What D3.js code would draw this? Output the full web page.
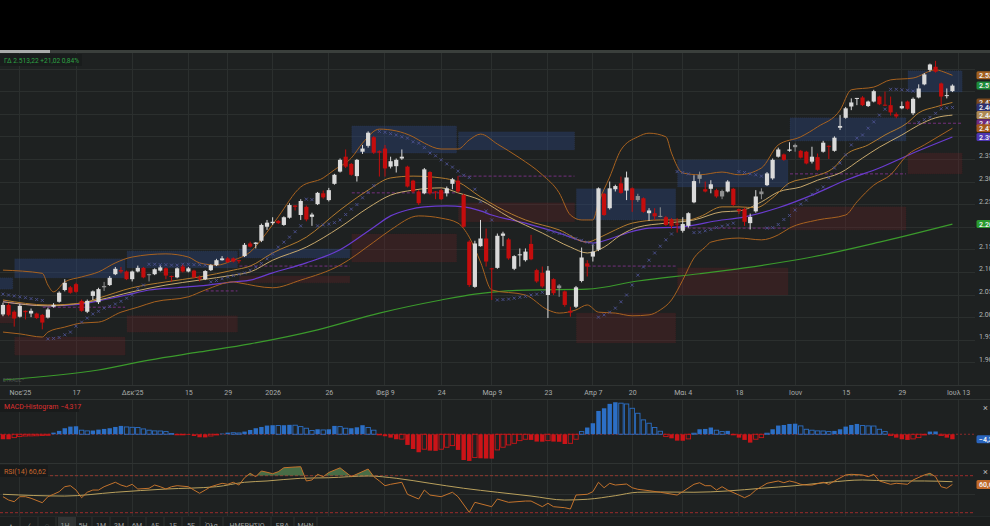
<!DOCTYPE html>
<html><head><meta charset="utf-8">
<script src="https://cdnjs.cloudflare.com/ajax/libs/d3/7.8.5/d3.min.js"></script>
<style>
html,body{margin:0;padding:0;background:#1e2121;overflow:hidden;}
svg{display:block;}
text{font-family:Roboto,"Noto Sans","DejaVu Sans",sans-serif;}
</style></head><body>
<svg id="chart" width="990" height="526"></svg>
<script>
// ---------- DATA ----------
const open=[2007,2028,2013,2002,2015,2009,2009,2006,2000,2024,2035,2061,2067,2074,2037,2013,2048,2034,2067,2072,2096,2105,2102,2085,2102,2110,2094,2096,2104,2109,2092,2089,2113,2102,2104,2089,2085,2105,2116,2127,2131,2131,2127,2136,2164,2163,2170,2201,2209,2214,2205,2221,2248,2227,2245,2223,2251,2275,2260,2296,2323,2356,2340,2313,2367,2380,2399,2368,2374,2334,2335,2352,2334,2303,2279,2275,2322,2279,2282,2275,2296,2303,2271,2168,2068,2158,2175,2109,2110,2181,2173,2108,2138,2127,2163,2105,2099,2050,2085,2065,2058,2015,2024,2081,2120,2135,2150,2274,2242,2284,2297,2281,2286,2260,2264,2231,2231,2223,2222,2217,2208,2192,2203,2255,2307,2284,2285,2282,2268,2279,2285,2240,2240,2209,2235,2273,2293,2308,2356,2361,2369,2377,2369,2367,2345,2355,2367,2380,2369,2420,2442,2467,2484,2487,2468,2478,2489,2471,2470,2450,2463,2478,2452,2487,2516,2548,2555,2518,2490,2501];
const high=[2033,2032,2016,2030,2016,2020,2011,2008,2022,2032,2058,2085,2070,2077,2040,2040,2060,2066,2079,2092,2112,2112,2104,2104,2115,2112,2097,2109,2115,2111,2093,2111,2117,2112,2106,2093,2105,2118,2130,2136,2134,2133,2128,2165,2168,2167,2208,2216,2222,2216,2224,2253,2249,2262,2248,2232,2278,2281,2287,2318,2352,2372,2342,2351,2382,2412,2402,2370,2382,2356,2352,2372,2336,2305,2282,2331,2324,2280,2285,2290,2309,2313,2274,2171,2170,2216,2197,2110,2186,2190,2176,2138,2153,2153,2183,2108,2113,2114,2087,2074,2060,2024,2070,2155,2127,2161,2288,2276,2301,2294,2312,2323,2288,2274,2266,2242,2242,2244,2225,2220,2220,2222,2233,2315,2323,2301,2304,2285,2283,2304,2287,2241,2243,2230,2282,2286,2322,2352,2376,2363,2388,2385,2371,2369,2378,2363,2391,2381,2401,2448,2466,2485,2486,2490,2480,2504,2491,2500,2489,2454,2478,2480,2487,2516,2541,2562,2568,2520,2507,2516];
const low=[2003,2003,1980,2000,1996,2001,1997,1974,1998,2022,2033,2058,2053,2055,2013,2010,2039,2030,2059,2070,2094,2098,2083,2080,2100,2087,2080,2094,2102,2085,2080,2087,2100,2100,2087,2080,2083,2103,2114,2126,2121,2122,2120,2134,2155,2153,2167,2194,2205,2207,2203,2219,2237,2216,2213,2203,2249,2263,2257,2294,2321,2331,2314,2301,2362,2376,2362,2312,2312,2330,2321,2349,2288,2276,2249,2273,2272,2262,2260,2268,2284,2276,2199,2068,2066,2157,2113,2039,2108,2158,2128,2105,2113,2124,2127,2077,2066,1999,2050,2046,2024,2002,2021,2078,2091,2124,2147,2225,2239,2279,2274,2260,2234,2256,2232,2214,2216,2222,2203,2197,2188,2188,2199,2253,2297,2277,2275,2265,2262,2277,2247,2229,2203,2195,2232,2262,2291,2305,2354,2347,2367,2367,2352,2339,2341,2325,2365,2351,2367,2415,2440,2459,2470,2468,2466,2476,2470,2468,2447,2441,2461,2460,2448,2485,2514,2544,2542,2467,2485,2499];
const close=[2028,2006,1998,2026,2012,2015,1999,1989,2018,2028,2055,2077,2055,2057,2015,2037,2058,2063,2070,2088,2108,2102,2085,2102,2110,2089,2096,2107,2111,2093,2090,2109,2102,2109,2089,2086,2103,2116,2127,2131,2123,2124,2125,2161,2157,2166,2205,2210,2212,2209,2222,2249,2245,2258,2217,2228,2276,2266,2282,2316,2349,2334,2316,2349,2374,2409,2365,2365,2330,2346,2349,2356,2290,2279,2253,2328,2275,2277,2262,2286,2306,2279,2201,2072,2164,2175,2124,2107,2181,2186,2131,2136,2140,2146,2129,2080,2069,2104,2054,2071,2028,2011,2067,2133,2113,2146,2286,2227,2286,2291,2276,2310,2260,2269,2234,2237,2224,2225,2205,2203,2206,2207,2231,2302,2316,2279,2295,2268,2280,2301,2249,2236,2212,2223,2268,2279,2319,2349,2372,2349,2372,2382,2354,2341,2356,2327,2387,2378,2398,2424,2463,2476,2486,2470,2478,2501,2472,2469,2454,2445,2468,2462,2484,2507,2538,2560,2544,2489,2492.2,2513.22];
const grayBars=[18,26,99,113,117,124,128,135,141];
const sar=[2052,2050,2048,2046,2044,2042,2040,2038,1953,1954,1956,1962,1968,1981,1990,1999,2008,2014,2021,2025,2030,2036,2043,2050,2064,2072,2118,2118,2117,2117,2116,2116,2118,2118,2117,2117,2116,2079,2082,2086,2090,2093,2096,2099,2105,2112,2120,2130,2141,2156,2167,2178,2190,2203,2262,2261,2203,2205,2207,2210,2216,2228,2240,2250,2265,2277,2292,2412,2410,2407,2404,2400,2397,2389,2386,2376,2364,2358,2349,2340,2333,2324,2315,2310,2284,2256,2236,2216,2039,2040,2041,2043,2045,2047,2050,2052,2056,2193,2189,2186,2183,2179,2175,2171,2167,2163,2001,2006,2012,2021,2035,2050,2072,2094,2112,2127,2143,2158,2172,2185,2323,2321,2318,2188,2189,2192,2195,2199,2202,2205,2209,2323,2321,2318,2316,2313,2198,2199,2206,2217,2226,2238,2251,2260,2273,2282,2289,2309,2331,2342,2360,2382,2397,2404,2419,2433,2448,2461,2505,2505,2504,2503,2501,2432,2438,2443,2452,2462,2464,2465];
const macdHist=[-4.3,-4.3,-2.9,-2.0,-1.5,-1.4,-1.3,-1.1,-0.9,1.4,2.9,5.2,6.6,6.9,3.5,2.9,3.2,4.0,4.6,5.2,6.3,7.2,6.3,6.0,5.8,4.6,3.5,2.9,2.8,2.3,0.6,-0.3,-0.2,-0.6,-1.5,-2.6,-2.7,-1.5,-0.6,0.6,1.4,1.3,1.1,2.3,3.7,5.2,6.3,7.5,7.8,7.5,7.8,8.1,7.8,6.6,5.2,3.2,4.3,3.7,4.3,7.2,6.6,5.2,5.2,6.0,7.8,5.8,3.5,-0.1,-1.7,-2.9,-4.3,-4.2,-9.2,-12.7,-15.5,-12.9,-14.1,-14.3,-12.9,-11.2,-9.8,-13.5,-22.2,-23.0,-20.1,-20.7,-20.9,-21.0,-13.5,-11.2,-9.2,-7.8,-5.5,-4.3,-4.9,-6.3,-6.4,-5.5,-6.3,-6.5,-8.4,-7.8,-4.3,2.3,5.8,9.5,20.1,22.4,26.2,27.6,26.8,26.1,22.4,18.1,12.4,9.5,5.8,2.6,-2.0,-3.5,-5.5,-5.6,-4.0,0.9,4.3,4.6,5.8,3.5,2.3,2.9,-0.3,-2.9,-4.9,-7.2,-4.3,-2.9,0.9,4.3,7.5,8.0,8.9,9.1,7.2,4.3,3.5,2.9,2.8,2.3,2.9,4.3,6.6,8.0,8.9,7.5,7.2,7.1,4.3,2.3,-1.1,-2.9,-4.3,-4.9,-4.0,-2.9,-0.6,2.3,2.4,-1.1,-2.9,-4.317];

// line series as [bar index, value] points
const bbUpper=[[0,2105],[7,2098],[8,2072],[9,2057],[11,2079],[14,2090],[17,2101],[20,2121],[23,2134],[29,2141],[33,2134],[35,2121],[38,2116],[41,2127],[44,2145],[47,2189],[49,2223],[53,2289],[57,2309],[59,2327],[62,2353],[64,2386],[67,2417],[70,2413],[73,2400],[75,2386],[78,2373],[81,2373],[83,2393],[85,2406],[88,2384],[92,2353],[96,2316],[99,2276],[101,2227],[103,2216],[105,2216],[106,2254],[108,2311],[110,2371],[113,2400],[115,2408],[118,2400],[119,2364],[121,2320],[124,2316],[128,2322],[131,2316],[135,2331],[138,2382],[142,2400],[145,2422],[149,2459],[151,2504],[155,2510],[158,2526],[162,2530],[166,2548],[168,2541],[169,2536]];
const bbBasis=[[0,2039],[8,2028],[14,2032],[17,2043],[23,2066],[29,2079],[35,2090],[41,2105],[44,2114],[48,2143],[54,2178],[60,2238],[65,2282],[69,2309],[73,2313],[78,2309],[81,2300],[85,2267],[88,2245],[93,2216],[99,2194],[104,2167],[106,2176],[109,2194],[112,2209],[117,2216],[122,2216],[124,2223],[128,2245],[131,2245],[134,2243],[137,2265],[140,2298],[144,2311],[148,2333],[150,2360],[154,2382],[157,2404],[161,2431],[163,2453],[166,2466],[169,2476]];
const bbLower=[[0,1968],[3,1964],[7,1957],[8,1968],[11,1979],[14,1988],[17,1990],[21,2012],[24,2023],[27,2035],[33,2046],[36,2061],[41,2079],[42,2077],[48,2066],[53,2083],[60,2116],[66,2167],[69,2194],[74,2225],[78,2220],[81,2209],[83,2178],[85,2123],[87,2061],[93,2050],[97,2017],[99,2010],[102,2017],[104,2028],[106,2012],[109,2010],[112,2004],[115,2006],[117,2017],[119,2039],[121,2083],[123,2132],[125,2156],[126,2167],[131,2176],[135,2172],[138,2183],[140,2198],[145,2216],[150,2227],[152,2256],[155,2293],[158,2316],[161,2360],[164,2382],[169,2419]];
const emaTan=[[0,2035],[8,2026],[17,2039],[23,2057],[29,2072],[35,2083],[41,2094],[44,2101],[48,2127],[54,2156],[60,2200],[65,2243],[69,2271],[73,2282],[78,2287],[81,2276],[85,2260],[90,2223],[96,2187],[101,2156],[104,2143],[107,2156],[110,2183],[113,2200],[118,2209],[123,2216],[128,2234],[131,2236],[135,2256],[138,2278],[142,2289],[145,2304],[149,2320],[153,2353],[156,2377],[160,2404],[163,2426],[166,2442],[169,2448]];
const maPurple=[[0,2035],[8,2026],[14,2030],[17,2037],[22,2050],[26,2061],[31,2066],[35,2070],[41,2079],[44,2083],[48,2099],[54,2121],[60,2150],[66,2200],[69,2225],[72,2238],[75,2245],[79,2247],[82,2245],[85,2236],[87,2227],[93,2209],[99,2187],[105,2165],[108,2174],[111,2187],[115,2198],[120,2200],[124,2207],[126,2212],[132,2223],[138,2243],[144,2271],[150,2304],[156,2331],[162,2364],[169,2399.5]];
const maGreen=[[0,1862],[17,1884],[26,1906],[35,1924],[44,1942],[56,1973],[67,2010],[78,2039],[84,2052],[93,2061],[104,2063],[113,2081],[124,2097],[132,2110],[144,2134],[156,2167],[169,2207]];
const rsi=[[0,47.3],[1,43.7],[2,41.9],[3,47.3],[4,47.3],[5,45.6],[7,40.8],[8,47.3],[9,49.9],[10,52.7],[11,58.1],[12,59.2],[13,54.5],[14,46.2],[15,52.1],[16,54.5],[17,54.5],[18,58.1],[20,62.9],[21,59.9],[22,58.1],[23,60.7],[24,55.6],[26,56.4],[27,59.9],[28,58.1],[29,55.6],[30,58.1],[31,59.2],[33,58.1],[34,54.5],[35,51],[36,54.5],[37,58.1],[39,61.8],[40,60.7],[41,62.9],[42,59.9],[43,67.8],[44,72.6],[45,68.9],[46,75.1],[47,73.7],[48,72.2],[49,74.3],[50,78.6],[52,79.4],[53,79.7],[54,64.3],[55,65.4],[56,71.5],[57,68.9],[58,73.5],[60,78.5],[62,69],[65,77.2],[66,69],[67,64.3],[68,59.2],[69,60.7],[71,62.9],[72,49.9],[74,44.8],[75,54.5],[76,49.1],[78,47.3],[80,52.1],[81,47.3],[83,30.4],[84,41.2],[87,36.5],[88,44.8],[90,41.2],[93,42.6],[94,42.6],[96,36.5],[97,40.2],[98,36.5],[100,35.4],[101,34],[102,49.1],[104,49.9],[105,52.7],[106,62.9],[107,57],[108,61.8],[109,59.9],[111,61],[112,57],[113,55.3],[115,53.8],[117,52.1],[120,49.1],[121,52.7],[123,60.7],[124,62.4],[125,59.2],[126,59.2],[127,54.5],[128,58.1],[129,54.5],[131,49.1],[132,46.2],[133,49.1],[134,54.5],[135,58.1],[136,61.8],[138,64.3],[139,62.4],[140,64.3],[141,62.9],[142,60.7],[143,59.9],[144,59.9],[146,62.9],[147,60.7],[148,64.3],[150,70.8],[151,71.5],[153,70.8],[154,68.9],[155,71.5],[156,64.3],[158,60.7],[159,61.8],[161,60.7],[162,65.4],[164,70.8],[165,72.6],[166,68.9],[167,58.1],[168,56.4],[169,60.62]];
const rsiMa=[[0,49.9],[11,48],[20,52.1],[29,55.6],[38,58.1],[43,62.9],[47,64.3],[53,67.2],[58,67.8],[65,69.7],[70,67.2],[76,61.8],[82,56.4],[88,52.1],[94,48],[100,43.7],[104,44.5],[109,48.4],[113,52.1],[117,52.4],[123,52.1],[129,53.5],[135,56.4],[141,59.2],[147,62.9],[153,65.4],[158,64.3],[164,64.3],[169,63.5]];

// period blocks: zones and dashed levels
const blockStart=[-1,2,22,42,62,81,102,120,140,161];
const blockEnd=[2,22,42,62,81,102,120,140,161,171];
const blueTop=[2088,2130,2147,2152,2424,2411,2285,2349,2442,2546];
const blueBot=[2063,2088,2110,2132,2364,2371,2216,2289,2391,2499];
const redTop=[2006,1957,2004,2092,2185,2254,2010,2110,2245,2364];
const redBot=[1988,1917,1968,2077,2123,2212,1944,2050,2194,2318];
const levelStart=[7,36,42,62,81,104,120,140,161];
const levelEnd=[22,42,62,81,102,120,140,161,171];
const levelVal=[2023,2059,2114,2276,2313,2114,2198,2318,2430];

const xLabels=["Νοε'25","17","Δεκ'25","15","29","2026","26","Φεβ 9","24","Μαρ 9","23","Απρ 7","20","Μαι 4","18","Ιουν","15","29","Ιουλ 13"];
const xLabelIdx=[3,13,23,33,40,48,58,68,78,87,97,105,112,121,131,141,150,160,170];
const priceTicks=[1900,1950,2000,2050,2100,2150,2200,2250,2300,2350];
const priceGrid=[1900,1950,2000,2050,2100,2150,2200,2250,2300,2350,2400,2450,2500,2550];
const toolbarItems=["•","⁄","◌","1Η","5Η","1Μ","3Μ","6Μ","ΑΕ","1Ε","5Ε","Όλα","ΗΜΕΡΗΣΙΟ","ΕΒΔ","ΜΗΝ"];

// ---------- RENDER ----------
const gr=d3.formatLocale({decimal:",",thousands:".",grouping:[3],currency:["","€"]});
const f0=gr.format(",.0f"), f2=gr.format(",.2f"), f3=gr.format(",.3f");
const N=open.length;
const x=d3.scaleLinear().domain([0,170]).range([2.97,2.97+5.618*170]);
const y=d3.scaleLinear().domain([1850,2550]).range([385.4,69]);
const ym=d3.scaleLinear().domain([-24,31]).range([462.1,398.3]);
const yr=d3.scaleLinear().domain([30,70]).range([512.7,475.7]);
const PW=975;

const svg=d3.select("#chart");
const defs=svg.append("defs");
defs.append("clipPath").attr("id","clipP").append("rect").attr("x",0).attr("y",53).attr("width",PW).attr("height",332);
defs.append("clipPath").attr("id","clipM").append("rect").attr("x",0).attr("y",399).attr("width",PW).attr("height",64);
defs.append("clipPath").attr("id","clipR").append("rect").attr("x",0).attr("y",463).attr("width",PW).attr("height",53);
defs.append("clipPath").attr("id","clipR70").append("rect").attr("x",0).attr("y",463).attr("width",PW).attr("height",yr(70)-463);

svg.append("rect").attr("width",990).attr("height",526).attr("fill","#1e2121");
svg.append("rect").attr("width",990).attr("height",50).attr("fill","#000");
svg.append("rect").attr("y",50).attr("width",990).attr("height",3).attr("fill","#3a3f3c");
svg.append("rect").attr("y",50).attr("width",50).attr("height",3).attr("fill","#a9abaa");

// grid
const grid=svg.append("g").attr("stroke","#2b2f2e").attr("stroke-width",1).attr("shape-rendering","crispEdges");
grid.selectAll(".hg").data(priceGrid).join("line").attr("x1",0).attr("x2",PW).attr("y1",d=>y(d)).attr("y2",d=>y(d));
[[53,385],[399,463],[463,516]].forEach(([a,b])=>{
  grid.selectAll(null).data(xLabelIdx).join("line").attr("x1",d=>x(d)).attr("x2",d=>x(d)).attr("y1",a).attr("y2",b);
});
grid.append("line").attr("x1",0).attr("x2",PW).attr("y1",yr(50)).attr("y2",yr(50));
const sep=svg.append("g").attr("stroke","#2f3332").attr("shape-rendering","crispEdges");
[385.5,399,463,516].forEach(v=>sep.append("line").attr("x1",0).attr("x2",990).attr("y1",v).attr("y2",v));

// price plot
const P=svg.append("g").attr("clip-path","url(#clipP)");
const bx0=i=>x(i)+0.5, bx1=i=>x(i)-1.5;
const blocks=d3.range(blockStart.length);
P.selectAll(".bz").data(blocks).join("rect")
  .attr("x",i=>bx0(blockStart[i])).attr("width",i=>bx1(blockEnd[i])-bx0(blockStart[i]))
  .attr("y",i=>y(blueTop[i])).attr("height",i=>y(blueBot[i])-y(blueTop[i]))
  .attr("fill","rgba(45,72,135,0.36)").attr("stroke","rgba(80,110,170,0.25)").attr("stroke-dasharray","1,1").attr("stroke-width",0.6);
P.selectAll(".rz").data(blocks).join("rect")
  .attr("x",i=>bx0(blockStart[i])).attr("width",i=>bx1(blockEnd[i])-bx0(blockStart[i]))
  .attr("y",i=>y(redTop[i])).attr("height",i=>y(redBot[i])-y(redTop[i]))
  .attr("fill","rgba(120,35,38,0.26)").attr("stroke","rgba(140,50,50,0.2)").attr("stroke-dasharray","1,1").attr("stroke-width",0.6);
P.selectAll(".lv").data(d3.range(levelVal.length)).join("line")
  .attr("x1",i=>bx0(levelStart[i])).attr("x2",i=>bx1(levelEnd[i]))
  .attr("y1",i=>y(levelVal[i])).attr("y2",i=>y(levelVal[i]))
  .attr("stroke","#74307f").attr("stroke-width",1).attr("stroke-dasharray","3,2");

const line=d3.line().x(d=>x(d[0])).y(d=>y(d[1])).curve(d3.curveMonotoneX);
[[maGreen,"#3b9a2c",1.2],[maPurple,"#6a3cd0",1.2],[bbLower,"#a8621f",1],[bbUpper,"#a8621f",1],[emaTan,"#c7a86c",1],[bbBasis,"#b27a2e",1]]
 .forEach(([d,c,w])=>P.append("path").attr("d",line(d)).attr("fill","none").attr("stroke",c).attr("stroke-width",w));

// parabolic SAR
const S=P.append("g").attr("stroke","#4c5190").attr("stroke-width",0.9);
S.selectAll("path").data(d3.range(N)).join("path")
  .attr("d",i=>{const cx=x(i),cy=y(sar[i]),r=1.5;return `M${cx-r},${cy-r}L${cx+r},${cy+r}M${cx-r},${cy+r}L${cx+r},${cy-r}`;});

// candles
const candleColor=i=>close[i]<open[i]?"#c40d0d":(grayBars.includes(i)?"#8e8f8f":"#dadada");
const C=P.append("g");
C.selectAll(".wk").data(d3.range(N)).join("line")
  .attr("x1",i=>x(i)).attr("x2",i=>x(i)).attr("y1",i=>y(high[i])).attr("y2",i=>y(low[i]))
  .attr("stroke",candleColor).attr("stroke-width",1);
C.selectAll(".bd").data(d3.range(N)).join("rect")
  .attr("x",i=>x(i)-2.1).attr("width",4.2)
  .attr("y",i=>y(Math.max(open[i],close[i])))
  .attr("height",i=>Math.max(1,Math.abs(y(open[i])-y(close[i]))))
  .attr("fill",candleColor);

svg.append("text").attr("x",3).attr("y",382).attr("font-size",5).attr("fill","#4d5150").text("ETRADE™");

// x axis
const xa=svg.append("g").attr("transform","translate(0,388)")
  .call(d3.axisBottom(x).tickValues(xLabelIdx).tickFormat((d,i)=>xLabels[i]).tickSize(0));
xa.select(".domain").remove();
xa.selectAll("text").attr("font-size",7).attr("fill","#a9acab").attr("dy","0.6em").style("font-family","Roboto,sans-serif");

// tags (last values of the series)
const last=a=>a[a.length-1][1];
const tags=[
 [last(bbUpper),"#a2601f"],[close[N-1],"#1d8c3b"],[last(bbBasis),"#7c4a1f"],[sar[N-1],"#2c306e"],
 [last(emaTan),"#ad8a55"],[levelVal[levelVal.length-1],"#6e2b7e"],[last(bbLower),"#a4581b"],
 [last(maPurple),"#4e36b2"],[last(maGreen),"#2a9a2e"]];

// price axis (labels hidden under a tag are not drawn, as in the reference)
const visibleTicks=priceTicks.filter(v=>tags.every(([tv])=>Math.abs(y(tv)-(y(v)-4))>6));
const ya=svg.append("g").attr("transform","translate(977,0)")
  .call(d3.axisRight(y).tickValues(visibleTicks).tickFormat(f0).tickSize(0));
ya.select(".domain").remove();
ya.selectAll("text").attr("font-size",7).attr("fill","#b3b5b4").attr("x",2).attr("dy","-0.22em").style("font-family","Roboto,sans-serif");

const T=svg.append("g");
tags.forEach(([v,c])=>{
  T.append("rect").attr("x",976.5).attr("y",y(v)-4).attr("width",30).attr("height",8).attr("rx",1.5).attr("fill",c);
  T.append("text").attr("x",979).attr("y",y(v)+2.6).attr("font-size",7).attr("font-weight",600).attr("fill","#f2f2f2").text(f2(v));
});

// header legend
svg.append("rect").attr("x",0).attr("y",54).attr("width",82).attr("height",12).attr("fill","#191c1c");
const chg=close[N-1]-close[N-2];
svg.append("text").attr("x",4).attr("y",62.8).attr("font-size",6.6).attr("fill","#2ea244")
  .text(`ΓΔ ${f2(close[N-1])} +${f2(chg)} ${f2(chg/close[N-2]*100)}%`);

// MACD histogram
const M=svg.append("g").attr("clip-path","url(#clipM)");
M.append("line").attr("x1",0).attr("x2",PW).attr("y1",ym(0)).attr("y2",ym(0)).attr("stroke","#8c2a2a").attr("stroke-dasharray","2,2");
const grows=i=>i===0||Math.abs(macdHist[i])>=Math.abs(macdHist[i-1]);
M.selectAll(".mh").data(d3.range(N)).join("rect")
  .attr("x",i=>x(i)-2.2).attr("width",4.4)
  .attr("y",i=>Math.min(ym(0),ym(macdHist[i]))).attr("height",i=>Math.max(0.6,Math.abs(ym(macdHist[i])-ym(0))))
  .attr("fill",i=>grows(i)?(macdHist[i]>=0?"#2c6fc6":"#cc1418"):"none")
  .attr("stroke",i=>macdHist[i]>=0?"#2c6fc6":"#cc1418").attr("stroke-width",i=>grows(i)?0:0.9);
svg.append("rect").attr("x",0).attr("y",400).attr("width",79).attr("height",12).attr("fill","#191b1b");
svg.append("text").attr("x",4).attr("y",408.5).attr("font-size",7).attr("fill","#df3030")
  .text(`MACD-Histogram  ${f3(macdHist[N-1])}`);
svg.append("rect").attr("x",976.5).attr("y",ym(macdHist[N-1])-4).attr("width",30).attr("height",8).attr("rx",1.5).attr("fill","#2a64bd");
svg.append("text").attr("x",979).attr("y",ym(macdHist[N-1])+2.6).attr("font-size",7).attr("font-weight",600).attr("fill","#f2f2f2").text(f3(macdHist[N-1]));

// RSI
const R=svg.append("g").attr("clip-path","url(#clipR)");
[70,30].forEach(v=>R.append("line").attr("x1",0).attr("x2",PW).attr("y1",yr(v)).attr("y2",yr(v)).attr("stroke","#9a2a2a").attr("stroke-dasharray","3,2"));
const area=d3.area().x(d=>x(d[0])).y0(yr(70)).y1(d=>yr(d[1]));
R.append("path").attr("d",area(rsi)).attr("fill","rgba(95,150,90,0.65)").attr("clip-path","url(#clipR70)");
const rl=d3.line().x(d=>x(d[0])).y(d=>yr(d[1]));
R.append("path").attr("d",rl.curve(d3.curveMonotoneX)(rsiMa)).attr("fill","none").attr("stroke","#b9a05c").attr("stroke-width",1);
R.append("path").attr("d",d3.line().x(d=>x(d[0])).y(d=>yr(d[1]))(rsi)).attr("fill","none").attr("stroke","#c4732c").attr("stroke-width",1);
svg.append("rect").attr("x",0).attr("y",465).attr("width",48).attr("height",12).attr("fill","#191b1b");
const rsiLast=rsi[rsi.length-1][1];
svg.append("text").attr("x",4).attr("y",473.5).attr("font-size",7).attr("fill","#c9682c").text(`RSI(14)  ${f2(rsiLast)}`);
svg.append("rect").attr("x",976.5).attr("y",yr(rsiLast)-4.5).attr("width",30).attr("height",9).attr("rx",1.5).attr("fill","#c0692a");
svg.append("text").attr("x",979).attr("y",yr(rsiLast)+2.6).attr("font-size",7).attr("font-weight",600).attr("fill","#f2f2f2").text(f2(rsiLast));

// close icons
[411,475].forEach(v=>svg.append("text").attr("x",983).attr("y",v).attr("font-size",9).attr("fill","#b8b8b8").text("×"));

// bottom toolbar
svg.append("rect").attr("x",0).attr("y",516.5).attr("width",990).attr("height",10).attr("fill","#1b1e1e");
svg.append("rect").attr("x",58).attr("y",517).attr("width",18).attr("height",9).attr("fill","#303434");
let tx=2;
const TB=svg.append("g");
toolbarItems.forEach((t,i)=>{
  const w=Math.max(18,t.length*5+8);
  TB.append("text").attr("x",tx+w/2).attr("y",528).attr("text-anchor","middle").attr("font-size",7).attr("fill","#9c9f9e").text(t);
  TB.append("line").attr("x1",tx+w).attr("x2",tx+w).attr("y1",517).attr("y2",526).attr("stroke","#2e3231");
  tx+=w;
});
</script>
</body></html>
